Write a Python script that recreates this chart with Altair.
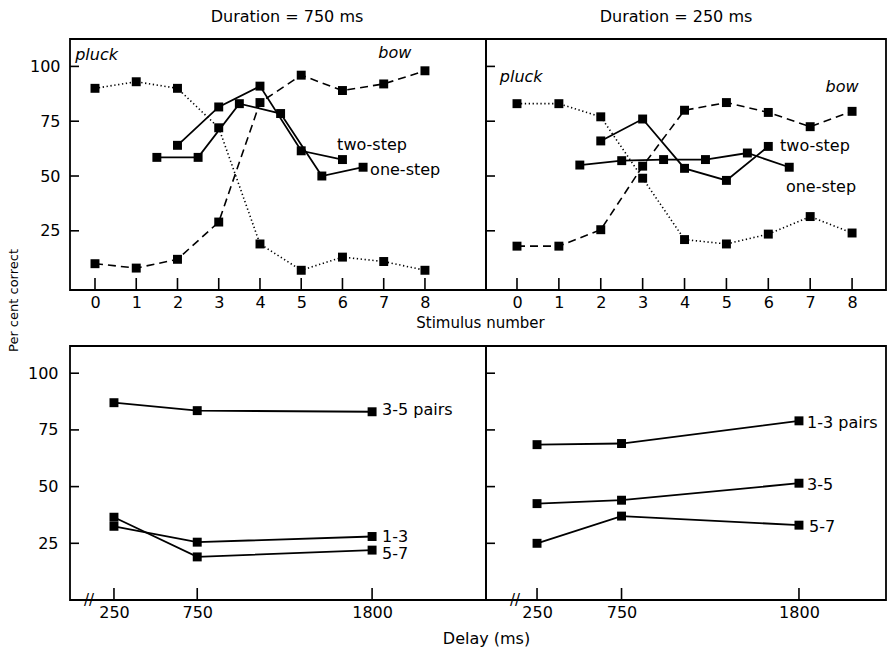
import altair as alt
import pandas as pd

FONT = "DejaVu Sans"

# ---------------- data ----------------
stim = [0, 1, 2, 3, 4, 5, 6, 7, 8]
two_x = [2, 3, 4, 5, 6]
one_x = [1.5, 2.5, 3.5, 4.5, 5.5, 6.5]

pluck_750 = [90, 93, 90, 72, 19, 7, 13, 11, 7]
bow_750 = [10, 8, 12, 29, 83.5, 96, 89, 92, 98]
two_750 = [64, 81.5, 91, 61.5, 57.5]
one_750 = [58.5, 58.5, 83, 78.5, 50, 54]

pluck_250 = [83, 83, 77, 49, 21, 19, 23.5, 31.5, 24]
bow_250 = [18, 18, 25.5, 54.5, 80, 83.5, 79, 72.5, 79.5]
two_250 = [66, 76, 53.5, 48, 63.5]
one_250 = [55, 57, 57.5, 57.5, 60.5, 54]

delays = [250, 750, 1800]
d750_35 = [87, 83.5, 83]
d750_13 = [32.5, 25.5, 28]
d750_57 = [36.5, 19, 22]
d250_13 = [68.5, 69, 79]
d250_35 = [42.5, 44, 51.5]
d250_57 = [25, 37, 33]

y_ticks = [25, 50, 75, 100]

# annotation texts (label, x, y, italic, align)
ann_tl = [("pluck", -0.48, 105, True, "left"), ("bow", 7.27, 106, True, "center"),
          ("two-step", 5.87, 64, False, "left"), ("one-step", 6.67, 52.7, False, "left")]
ann_tr = [("pluck", -0.41, 95, True, "left"), ("bow", 7.76, 90.6, True, "center"),
          ("two-step", 6.28, 63.8, False, "left"), ("one-step", 6.42, 45, False, "left")]
ann_bl = [("3-5 pairs", 1860, 83.6, False, "left"), ("1-3", 1860, 28, False, "left"),
          ("5-7", 1860, 20.3, False, "left")]
ann_br = [("1-3 pairs", 1848, 78, False, "left"), ("3-5", 1848, 50.9, False, "left"),
          ("5-7", 1860, 32, False, "left")]
break_x = [100]
break_x_r = [120]

W_L, W_R = 416, 400
H_T, H_B = 251, 254

DOT = [1.3, 2.6]
DASH = [8, 5]


def make_panel(series, xdom, ydom, W, H, xticks, ann, xaxis_extra, yaxis, title=None, breaks=None):
    xs = alt.Scale(domain=xdom, nice=False, zero=False)
    ys = alt.Scale(domain=ydom, nice=False, zero=False)
    xax = alt.Axis(values=xticks, ticks=False, tickSize=0, domain=False, grid=False,
                   labelFont=FONT, labelFontSize=16, labelColor="black", labelPadding=4,
                   format="d", labelFlush=False, labelOverlap=False, **xaxis_extra)
    X = alt.X("x:Q", scale=xs, axis=xax)
    if yaxis is None:
        Y = alt.Y("y:Q", scale=ys, axis=None)
    else:
        Y = alt.Y("y:Q", scale=ys, axis=yaxis)

    layers = []
    for xv, yv, dash in series:
        df = pd.DataFrame({"x": xv, "y": yv})
        kw = {"strokeDash": dash} if dash else {}
        sw = 1.6 if dash else 1.8
        layers.append(alt.Chart(df).mark_line(color="black", strokeWidth=sw, **kw).encode(x=X, y=Y))
        layers.append(alt.Chart(df).mark_square(size=80, color="black", opacity=1).encode(x=X, y=Y))

    # inward ticks
    layers.append(alt.Chart(pd.DataFrame({"x": xticks})).mark_rule(color="black", strokeWidth=1.6)
                  .encode(x=X, y=alt.value(H - 12), y2=alt.value(H)))
    layers.append(alt.Chart(pd.DataFrame({"y": y_ticks})).mark_rule(color="black", strokeWidth=1.6)
                  .encode(y=Y, x=alt.value(0), x2=alt.value(9)))

    for label, ax, ay, ital, align in ann:
        layers.append(alt.Chart(pd.DataFrame({"x": [ax], "y": [ay], "t": [label]}))
                      .mark_text(font=FONT, fontSize=16, align=align, baseline="middle", color="black",
                                 fontStyle="italic" if ital else "normal")
                      .encode(x=X, y=Y, text="t:N"))
    if breaks:
        layers.append(alt.Chart(pd.DataFrame({"x": breaks, "y": [0] * len(breaks), "t": ["//"] * len(breaks)}))
                      .mark_text(font=FONT, fontSize=15, align="center", baseline="middle", color="black")
                      .encode(x=X, y=Y, text="t:N"))

    props = dict(width=W, height=H)
    if title:
        props["title"] = title
    return alt.layer(*layers).properties(**props)


TY = [-2, 112.5]
BY = [0, 112]

yaxis_tl = alt.Axis(values=y_ticks, ticks=False, tickSize=0, domain=False, grid=False,
                    labelFont=FONT, labelFontSize=16, labelColor="black", labelPadding=10,
                    format="d", title="Per cent correct", titleFont=FONT, titleFontSize=13,
                    titleFontWeight="normal", titleColor="black", titleX=-57, titleY=261,
                    titleAngle=270, titleAlign="center", titleBaseline="middle")
yaxis_bl = alt.Axis(values=y_ticks, ticks=False, tickSize=0, domain=False, grid=False,
                    labelFont=FONT, labelFontSize=16, labelColor="black", labelPadding=12,
                    format="d", title="")

tl = make_panel(
    [(stim, pluck_750, DOT), (stim, bow_750, DASH), (two_x, two_750, None), (one_x, one_750, None)],
    [-0.606, 9.48], TY, W_L, H_T, stim, ann_tl,
    dict(title="Stimulus number", titleFont=FONT, titleFontSize=15, titleFontWeight="normal",
         titleColor="black", titleX=410, titleY=32, titleAlign="center", titleBaseline="middle"),
    yaxis_tl,
    title=alt.TitleParams("Duration = 750 ms", font=FONT, fontSize=16, fontWeight="normal",
                          color="black", offset=14, dx=9))

tr = make_panel(
    [(stim, pluck_250, DOT), (stim, bow_250, DASH), (two_x, two_250, None), (one_x, one_250, None)],
    [-0.74, 8.81], TY, W_R, H_T, stim, ann_tr,
    dict(title=""), None,
    title=alt.TitleParams("Duration = 250 ms", font=FONT, fontSize=16, fontWeight="normal",
                          color="black", offset=14, dx=-10))

bl = make_panel(
    [(delays, d750_35, None), (delays, d750_13, None), (delays, d750_57, None)],
    [-14, 2484], BY, W_L, H_B, delays, ann_bl,
    dict(title="Delay (ms)", titleFont=FONT, titleFontSize=16, titleFontWeight="normal",
         titleColor="black", titleX=416, titleY=38, titleAlign="center", titleBaseline="middle"),
    yaxis_bl, breaks=break_x)

br = make_panel(
    [(delays, d250_13, None), (delays, d250_35, None), (delays, d250_57, None)],
    [-52, 2315], BY, W_R, H_B, delays, ann_br,
    dict(title=""), None, breaks=break_x_r)

chart = alt.concat(
    tl, tr, bl, br, columns=2,
    spacing={"row": 56, "column": 0}, bounds="flush",
    padding={"left": 6, "top": 8, "right": 2, "bottom": 2},
    background="white",
).configure_view(stroke="black", strokeWidth=1.8)

chart.save("out.html", embed_options={"renderer": "svg", "actions": False})
